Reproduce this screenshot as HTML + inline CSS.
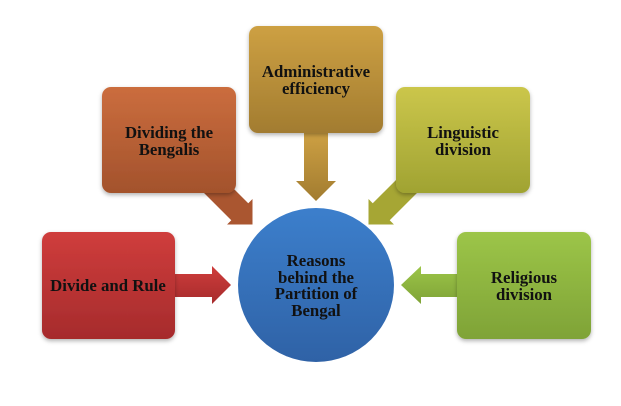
<!DOCTYPE html>
<html><head><meta charset="utf-8"><style>
html,body{margin:0;padding:0;background:#fff;}
svg{display:block;}
text{font-family:"Liberation Serif",serif;font-weight:bold;font-size:16.8px;fill:#111;text-anchor:middle;}
</style></head><body>
<svg width="621" height="406" viewBox="0 0 621 406">
<defs>
<linearGradient id="gr" x1="0" y1="0" x2="0" y2="1"><stop offset="0" stop-color="#cf3d3c"/><stop offset="1" stop-color="#a62b2c"/></linearGradient>
<linearGradient id="go" x1="0" y1="0" x2="0" y2="1"><stop offset="0" stop-color="#cb6d3e"/><stop offset="1" stop-color="#a3522c"/></linearGradient>
<linearGradient id="gy" x1="0" y1="0" x2="0" y2="1"><stop offset="0" stop-color="#cda043"/><stop offset="1" stop-color="#a27c30"/></linearGradient>
<linearGradient id="gl" x1="0" y1="0" x2="0" y2="1"><stop offset="0" stop-color="#cbc64b"/><stop offset="1" stop-color="#a0a332"/></linearGradient>
<linearGradient id="gg" x1="0" y1="0" x2="0" y2="1"><stop offset="0" stop-color="#9cc548"/><stop offset="1" stop-color="#7fa337"/></linearGradient>
<linearGradient id="gb" x1="0" y1="0" x2="0" y2="1"><stop offset="0" stop-color="#3c7fcc"/><stop offset="1" stop-color="#2f62a6"/></linearGradient>
<filter id="sh" x="-20%" y="-20%" width="140%" height="140%"><feDropShadow dx="0" dy="2" stdDeviation="2" flood-color="#000" flood-opacity="0.3"/></filter>
</defs>
<polygon points="175,274 212,274 212,266 231,285 212,304 212,297 175,297" fill="url(#gr)"/>
<polygon points="304,133 328,133 328,181 336,181 316,201 296,181 304,181" fill="url(#gy)"/>
<polygon points="457,274 421,274 421,266 401,285 421,304 421,297 457,297" fill="url(#gg)"/>
<g transform="translate(203,175) rotate(45)"><polygon points="0,-12 52,-12 52,-18 70,0 52,18 52,12 0,12" fill="#aa5630"/></g>
<g transform="translate(418,175) rotate(135)"><polygon points="0,-12 52,-12 52,-18 70,0 52,18 52,12 0,12" fill="#a6a634"/></g>
<rect x="42" y="232" width="133" height="107" rx="9" fill="url(#gr)" filter="url(#sh)"/>
<rect x="102" y="87" width="134" height="106" rx="9" fill="url(#go)" filter="url(#sh)"/>
<rect x="249" y="26" width="134" height="107" rx="9" fill="url(#gy)" filter="url(#sh)"/>
<rect x="396" y="87" width="134" height="106" rx="9" fill="url(#gl)" filter="url(#sh)"/>
<rect x="457" y="232" width="134" height="107" rx="9" fill="url(#gg)" filter="url(#sh)"/>
<ellipse cx="316" cy="285" rx="78" ry="77" fill="url(#gb)"/>
<text x="108" y="291">Divide and Rule</text>
<text x="169" y="138">Dividing the</text><text x="169" y="155">Bengalis</text>
<text x="316" y="77">Administrative</text><text x="316" y="94">efficiency</text>
<text x="463" y="138">Linguistic</text><text x="463" y="155">division</text>
<text x="524" y="283">Religious</text><text x="524" y="300">division</text>
<text x="316" y="266">Reasons</text><text x="316" y="283">behind the</text><text x="316" y="299">Partition of</text><text x="316" y="316">Bengal</text>
</svg>
</body></html>
